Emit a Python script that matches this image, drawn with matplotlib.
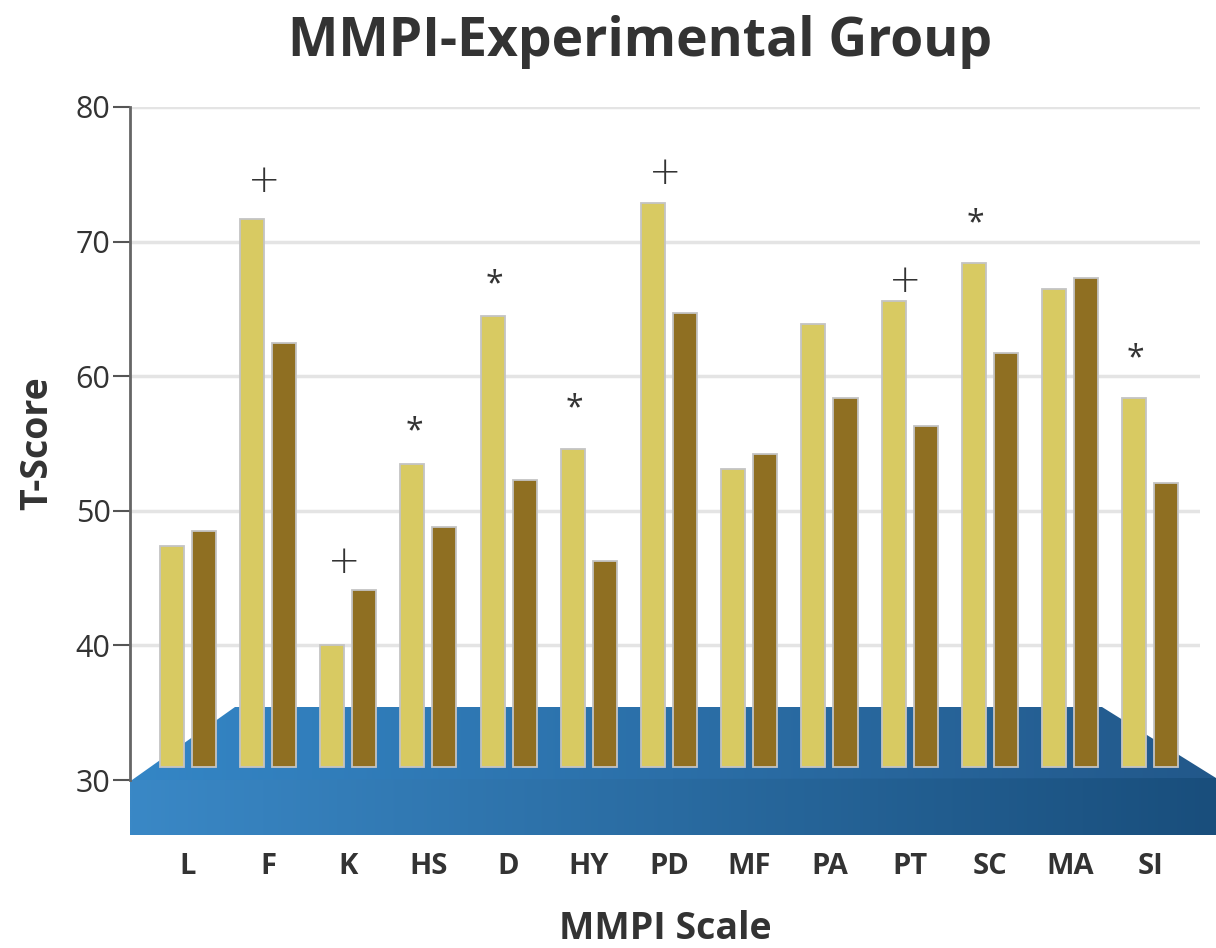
import matplotlib
matplotlib.use("Agg")
import matplotlib.pyplot as plt
import numpy as np
from matplotlib.patches import Polygon

scales = ["L", "F", "K", "HS", "D", "HY", "PD", "MF", "PA", "PT", "SC", "MA", "SI"]
group_a = [47.4, 71.7, 40.0, 53.5, 64.5, 54.6, 72.9, 53.1, 63.9, 65.6, 68.4, 66.5, 58.4]
group_b = [48.5, 62.5, 44.1, 48.8, 52.3, 46.3, 64.7, 54.2, 58.4, 56.3, 61.7, 67.3, 52.1]
bar_base = 31.0

# significance markers: (scale index, symbol, y position)
mark_idx = [1, 2, 3, 4, 5, 6, 9, 10, 12]
mark_sym = ["+", "+", "*", "*", "*", "+", "+", "*", "*"]
mark_y = [74.5, 46.2, 55.9, 66.8, 57.6, 75.1, 67.1, 71.3, 61.3]

W, H = 1216, 948
fig = plt.figure(figsize=(W / 100, H / 100), dpi=100)
fig.patch.set_facecolor("white")

# background layer in pixel coords for the blue "platform"
bg = fig.add_axes([0, 0, 1, 1], zorder=0)
bg.axis("off")


def gradient_face(poly_pts, c_left, c_right, x0, x1, y0, y1):
    t = np.linspace(0, 1, 256)[:, None]
    img = (np.array(c_left) + (np.array(c_right) - np.array(c_left)) * t)[None, :, :] / 255.0
    im = bg.imshow(img, extent=[x0, x1, y1, y0], aspect="auto", interpolation="bilinear", zorder=1)
    poly = Polygon(poly_pts, closed=True, facecolor="none", edgecolor="none")
    bg.add_patch(poly)
    im.set_clip_path(poly)


gradient_face([(132, 780), (235, 707), (1102, 707), (1216, 778), (1216, 782), (132, 782)],
              (52, 134, 198), (34, 88, 138), 130, 1216, 707, 782)
gradient_face([(130, 780), (1216, 778), (1216, 835), (130, 835)],
              (58, 136, 198), (25, 78, 124), 130, 1216, 778, 835)
bg.set_xlim(0, W)
bg.set_ylim(H, 0)

ax = fig.add_axes([130 / W, 1 - 780 / H, 1070 / W, 673 / H], zorder=1)
ax.patch.set_alpha(0)

x = np.arange(len(scales))
bw = 0.3
off = 0.2
heights_a = np.array(group_a) - bar_base
heights_b = np.array(group_b) - bar_base
ax.bar(x - off, heights_a, bw, bottom=bar_base, color="#d8ca62", edgecolor="#c4c4c4", linewidth=1.3, zorder=3)
ax.bar(x + off, heights_b, bw, bottom=bar_base, color="#8f6f22", edgecolor="#c4c4c4", linewidth=1.3, zorder=3)

for i, s, yv in zip(mark_idx, mark_sym, mark_y):
    if s == "+":
        ax.text(i - off + 0.15, yv, s, ha="center", va="center", fontsize=28,
                color="#333333", family="DejaVu Sans", fontweight="light", zorder=4)
    else:
        ax.text(i - off + 0.02, yv, s, ha="center", va="center", fontsize=23,
                color="#333333", family="Open Sans", zorder=4)

ax.set_xlim(-0.72, 12.62)
ax.set_ylim(30, 80)
ax.set_yticks([30, 40, 50, 60, 70, 80])
for v in [40, 50, 60, 70, 80]:
    ax.axhline(v, color="#e4e4e4", lw=2.5, zorder=1)

ax.set_xticks(x)
ax.set_xticklabels(scales, fontsize=21, fontweight="bold", family="Open Sans", color="#333333")
ax.tick_params(axis="x", length=0, pad=52)
ax.tick_params(axis="y", length=12, width=1.5, color="#555555", labelsize=22, labelcolor="#333333", pad=2)
for lab in ax.get_yticklabels():
    lab.set_family("Open Sans")

for sp in ["top", "right", "bottom"]:
    ax.spines[sp].set_visible(False)
ax.spines["left"].set_color("#666666")
ax.spines["left"].set_linewidth(2)

ax.set_ylabel("T-Score", fontsize=27, fontweight="bold", family="Open Sans", color="#333333", labelpad=14)
fig.text(665 / W, 1 - 929 / H, "MMPI Scale", ha="center", va="center",
         fontsize=27, fontweight="bold", family="Open Sans", color="#333333")
fig.text(640 / W, 1 - 42 / H, "MMPI-Experimental Group", ha="center", va="center",
         fontsize=38.5, fontweight="bold", family="Open Sans", color="#333333")

fig.savefig("out.png", dpi=100)
